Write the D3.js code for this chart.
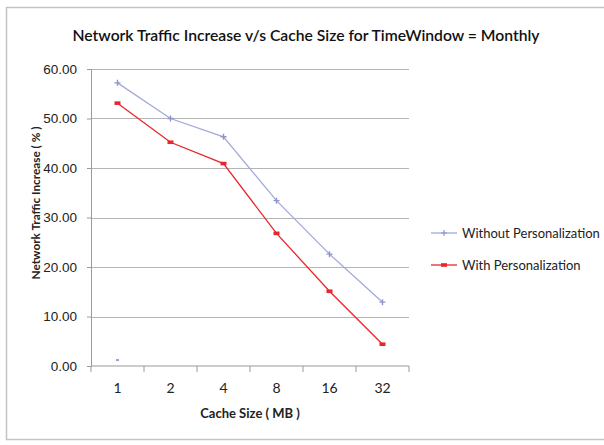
<!DOCTYPE html>
<html>
<head>
<meta charset="utf-8">
<script src="https://cdn.jsdelivr.net/npm/d3@7"></script>
<style>
  html, body { margin: 0; padding: 0; background: #fff; }
  svg { display: block; font-family: Lato, "Open Sans", sans-serif; }
</style>
</head>
<body>
<svg id="chart" width="604" height="445"></svg>
<script>
// Cache sizes (MB) on the x axis
const categories = ["1", "2", "4", "8", "16", "32"];
// Network traffic increase (%) per cache size
const withoutPersonalization = [57.2, 50.0, 46.3, 33.4, 22.6, 12.9];
const withPersonalization = [53.1, 45.2, 40.9, 26.8, 15.1, 4.4];
// Lone marker near the baseline at the first category
const strayPoint = [{ cat: "1", value: 1.2 }];
const yTicks = [0, 10, 20, 30, 40, 50, 60];

const seriesNames = ["Without Personalization", "With Personalization"];
const seriesColors = ["#a3a9d9", "#e8262b"];

const svg = d3.select("#chart");
const margin = { left: 91, right: 195, top: 69, bottom: 79 };
const W = 604, H = 445;

// outer frame
svg.append("rect")
  .attr("x", 6.5).attr("y", 7.5)
  .attr("width", 600).attr("height", 432)
  .attr("fill", "#fff").attr("stroke", "#c4c4c4").attr("stroke-width", 1.5);

const x = d3.scaleBand().domain(categories)
  .range([margin.left, W - margin.right]);
const y = d3.scaleLinear().domain([0, 60])
  .range([H - margin.bottom, margin.top]);

// horizontal grid lines
svg.append("g").selectAll("line").data(yTicks.filter(d => d > 0)).join("line")
  .attr("x1", margin.left).attr("x2", W - margin.right)
  .attr("y1", d => Math.round(y(d)) + 0.5).attr("y2", d => Math.round(y(d)) + 0.5)
  .attr("stroke", "#b5b5b5").attr("stroke-width", 1.2);

// y axis
const yAxis = svg.append("g")
  .attr("transform", `translate(${margin.left},0)`)
  .call(d3.axisLeft(y).tickValues(yTicks).tickFormat(d3.format(".2f")).tickSize(4).tickPadding(10));
yAxis.select(".domain").attr("stroke", "#9a9a9a");
yAxis.selectAll(".tick line").attr("stroke", "#9a9a9a");
yAxis.selectAll("text").attr("font-size", 13.5).attr("fill", "#222");

// x axis with ticks on band boundaries
const xAxisG = svg.append("g")
  .attr("transform", `translate(0,${y(0)})`);
xAxisG.append("line")
  .attr("x1", margin.left).attr("x2", W - margin.right)
  .attr("stroke", "#9a9a9a").attr("stroke-width", 1.2);
const boundaries = categories.map(c => x(c)).concat([x(categories[categories.length - 1]) + x.bandwidth()]);
xAxisG.selectAll("line.tk").data(boundaries).join("line").attr("class", "tk")
  .attr("x1", d => d).attr("x2", d => d).attr("y1", 0).attr("y2", 6)
  .attr("stroke", "#9a9a9a");
xAxisG.selectAll("text").data(categories).join("text")
  .attr("x", d => x(d) + x.bandwidth() / 2).attr("y", 27)
  .attr("text-anchor", "middle").attr("font-size", 14).attr("fill", "#222")
  .text(d => d);

// series lines and markers
const line = d3.line()
  .x((d, i) => x(categories[i]) + x.bandwidth() / 2)
  .y(d => y(d));
[withoutPersonalization, withPersonalization].forEach((vals, s) => {
  svg.append("path").datum(vals)
    .attr("d", line).attr("fill", "none")
    .attr("stroke", seriesColors[s]).attr("stroke-width", 1.3);
  const g = svg.append("g");
  vals.forEach((v, i) => {
    const cx = x(categories[i]) + x.bandwidth() / 2, cy = y(v);
    if (s === 0) {
      g.append("path")
        .attr("d", `M${cx - 3},${cy}H${cx + 3}M${cx},${cy - 3}V${cy + 3}`)
        .attr("stroke", "#8f95cc").attr("stroke-width", 1.4);
    } else {
      g.append("rect")
        .attr("x", cx - 3).attr("y", cy - 1.8).attr("width", 6).attr("height", 3.6)
        .attr("fill", "#e8262b");
    }
  });
});
svg.append("g").selectAll("rect").data(strayPoint).join("rect")
  .attr("x", d => x(d.cat) + x.bandwidth() / 2 - 1.5)
  .attr("y", d => y(d.value) - 1)
  .attr("width", 3).attr("height", 2).attr("fill", "#9aa0cf");

// title
svg.append("text")
  .attr("x", 306).attr("y", 41).attr("text-anchor", "middle")
  .attr("font-size", 15.7).attr("font-weight", 600).attr("fill", "#111")
  .text("Network Traffic Increase v/s Cache Size for TimeWindow = Monthly");

// axis titles
svg.append("text")
  .attr("transform", `translate(40,203) rotate(-90)`)
  .attr("text-anchor", "middle").attr("font-size", 11.8).attr("font-weight", 700).attr("fill", "#222")
  .text("Network Traffic Increase ( % )");
svg.append("text")
  .attr("x", (margin.left + W - margin.right) / 2).attr("y", 418)
  .attr("text-anchor", "middle").attr("font-size", 13).attr("font-weight", 700).attr("fill", "#222")
  .text("Cache Size ( MB )");

// legend
const legend = svg.append("g");
seriesNames.forEach((name, s) => {
  const ly = 233 + s * 32;
  legend.append("line").attr("x1", 431).attr("x2", 457).attr("y1", ly).attr("y2", ly)
    .attr("stroke", seriesColors[s]).attr("stroke-width", 1.3);
  if (s === 0) {
    legend.append("path").attr("d", `M441,${ly}H447M444,${ly - 3}V${ly + 3}`)
      .attr("stroke", "#8f95cc").attr("stroke-width", 1.2);
  } else {
    legend.append("rect").attr("x", 441).attr("y", ly - 1.8).attr("width", 6).attr("height", 3.6)
      .attr("fill", "#e8262b");
  }
  legend.append("text").attr("x", 462).attr("y", ly + 4.5)
    .attr("font-size", 13).attr("fill", "#222").text(name);
});
</script>
</body>
</html>
